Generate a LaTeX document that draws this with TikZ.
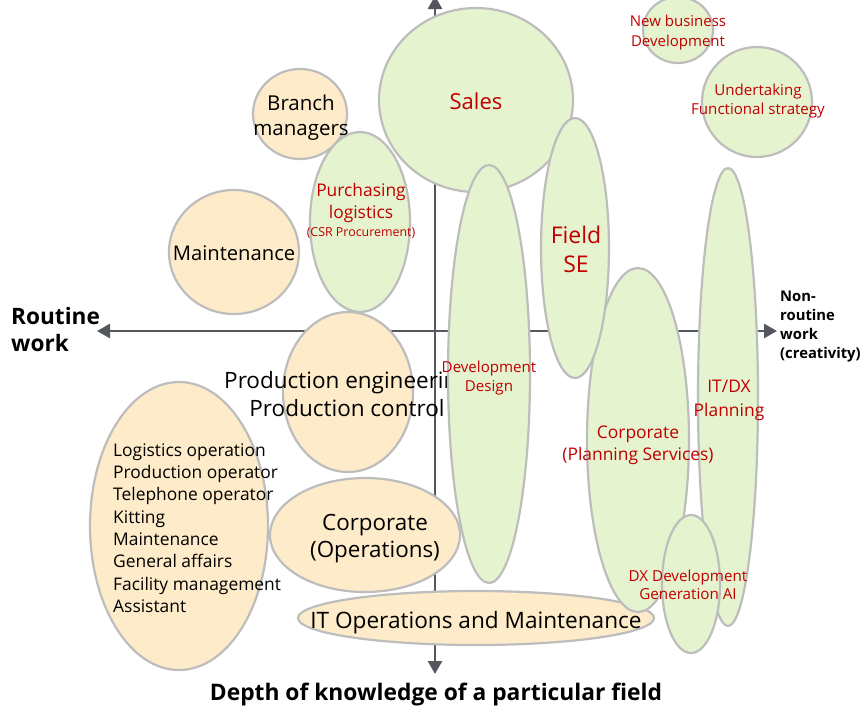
\documentclass[tikz,border=0pt]{standalone}
\usepackage{fontspec}
\setmainfont{Open Sans}
\usetikzlibrary{arrows.meta,shapes.geometric}
\definecolor{warmfill}{HTML}{FDEBC9}
\definecolor{leaffill}{HTML}{E5F3CE}
\definecolor{rimgray}{HTML}{BDBDBD}
\definecolor{axisgray}{HTML}{54575C}
\definecolor{labelred}{HTML}{C00000}
\newcommand{\fs}[2]{\fontsize{#1}{#2}\selectfont}
\begin{document}
\begin{tikzpicture}[x=1pt,y=-1pt,
  blob/.style={ellipse, draw=rimgray, line width=2.2pt, inner sep=0pt},
  warm/.style={blob, fill=warmfill},
  leaf/.style={blob, fill=leaffill},
  axisline/.style={draw=axisgray, line width=2.6pt,
    {Triangle[length=13pt,width=14pt]}-{Triangle[length=13pt,width=14pt]}},
  darktext/.style={text=black, align=center, inner sep=0pt},
  redtext/.style={text=labelred, align=center, inner sep=0pt},
  axistext/.style={text=black, align=left, inner sep=0pt, font=\bfseries}]
\useasboundingbox (0,0) rectangle (861,705);

% axes
\coordinate (xl) at (97,331);
\coordinate (xr) at (777,331);
\coordinate (yt) at (435,-4);
\coordinate (yb) at (435,674);
\draw[axisline] (xl) -- (xr);
\draw[axisline] (yt) -- (yb);

% role areas, back to front
\node[warm, minimum width=178pt, minimum height=288pt] (list) at (179,526) {};
\node[warm, minimum width=130pt, minimum height=124pt] (maint) at (234,252) {};
\node[warm, minimum width=94pt, minimum height=90pt] (branch) at (300,114) {};
\node[leaf, minimum width=100pt, minimum height=180pt] (purch) at (360,222) {};
\node[leaf, minimum width=194pt, minimum height=184pt] (sales) at (476,100) {};
\node[warm, minimum width=130pt, minimum height=160pt] (prod) at (348,392) {};
\node[darktext, font=\fs{22.5}{28}] (prodtxt) at (347,394.5) {Production engineering\\Production control};
\node[leaf, minimum width=82pt, minimum height=418pt] (dev) at (489,374) {};
\node[warm, minimum width=190pt, minimum height=114pt] (corpops) at (365,535) {};
\node[warm, minimum width=356pt, minimum height=54pt] (itops) at (476,618) {};
\node[leaf, minimum width=102pt, minimum height=344pt] (corpplan) at (638,440) {};
\node[leaf, minimum width=68pt, minimum height=260pt] (fieldse) at (575,248) {};
\node[leaf, minimum width=60pt, minimum height=458pt] (itdx) at (728,397) {};
\node[leaf, minimum width=58pt, minimum height=138pt] (dxdev) at (691,584) {};
\node[leaf, minimum width=70pt, minimum height=66pt] (newbiz) at (678,30) {};
\node[leaf, minimum width=110pt, minimum height=110pt] (undert) at (757,102) {};

% labels
\node[darktext, font=\fs{17.4}{22.3}, align=left, anchor=west] (listtxt) at (113,528)
  {Logistics operation\\Production operator\\Telephone operator\\Kitting\\Maintenance\\General affairs\\Facility management\\Assistant};
\node[darktext, font=\fs{20.2}{25}] (mainttxt) at (234,253) {Maintenance};
\node[darktext, font=\fs{20.5}{25}] (branchtxt) at (301,118) {Branch\\managers};
\node[redtext, font=\fs{17.4}{22}, anchor=north] (purchtxt) at (361,183)
  {Purchasing\\logistics\\[-3.5pt]{\fs{12.4}{14}(CSR Procurement)}};
\node[redtext, font=\fs{22}{29}] (salestxt) at (476,101) {Sales};
\node[redtext, font=\fs{15.1}{19}] (devtxt) at (489,378) {Development\\Design};
\node[darktext, font=\fs{22.4}{27.5}] (corpopstxt) at (375,538.5) {Corporate\\(Operations)};
\node[darktext, font=\fs{22.6}{28}] (itopstxt) at (476,623) {IT Operations and Maintenance};
\node[redtext, font=\fs{17.4}{22}] (corpplantxt) at (638,445) {Corporate\\(Planning Services)};
\node[redtext, font=\fs{23}{29}] (fieldsetxt) at (576,249.5) {Field\\SE};
\node[redtext, font=\fs{17.4}{24}] (itdxtxt) at (729,400.5) {IT/DX\\Planning};
\node[redtext, font=\fs{15.2}{18}] (dxdevtxt) at (688,585) {DX Development\\Generation AI};
\node[redtext, font=\fs{15}{20}] (newbiztxt) at (678,33) {New business\\Development};
\node[redtext, font=\fs{15.1}{19}] (underttxt) at (758,101) {Undertaking\\Functional strategy};

% axis captions
\node[axistext, font=\bfseries\fs{22.6}{27}, anchor=west] (routine) at (11,330) {Routine\\work};
\node[axistext, font=\bfseries\fs{14.8}{19}, anchor=west] (creative) at (780,326) {Non-\\routine\\work\\(creativity)};
\node[axistext, font=\bfseries\fs{22.8}{27}, align=center] (depth) at (436,695) {Depth of knowledge of a particular field};
\end{tikzpicture}
\end{document}
